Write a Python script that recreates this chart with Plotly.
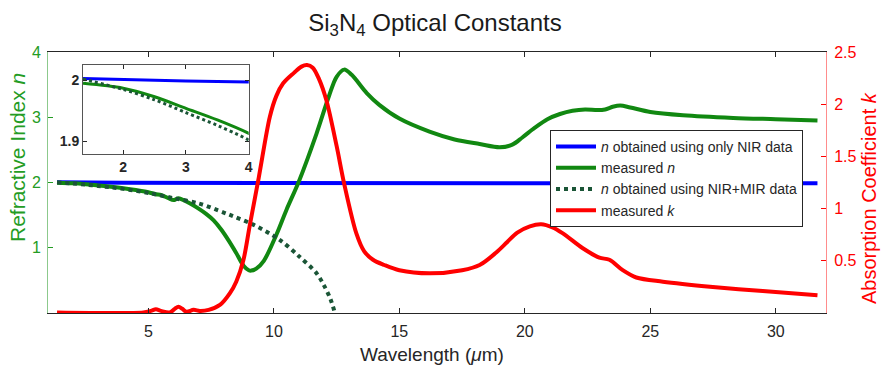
import plotly.graph_objects as go

# ---------------- data ----------------
wl_nir = [1.36, 2.0, 3.0, 4.0, 10.0, 20.0, 31.66]
n_nir = [2.003, 2.001, 1.999, 1.997, 1.993, 1.990, 1.987]

wl_meas_n = [1.36, 2.0, 2.5, 3.0, 3.5, 4.0, 4.5, 5.0, 5.3, 5.5, 5.8, 6.0, 6.2, 6.45, 6.7,
             7.0, 7.3, 7.6, 7.9, 8.2, 8.5, 8.8, 9.0, 9.1, 9.3, 9.6, 10.1, 10.5, 11.0,
             11.7, 12.2, 12.5, 12.8, 13.1, 13.7, 14.2, 15.0, 16.2, 17.2, 18.2, 19.0,
             19.5, 19.9, 20.4, 20.9, 21.4, 21.9, 22.4, 22.9, 23.2, 23.5, 23.8, 24.2,
             25.0, 26.3, 28.3, 30.0, 31.66]
n_meas = [1.995, 1.987, 1.973, 1.954, 1.935, 1.913, 1.885, 1.85, 1.82, 1.81, 1.76, 1.73,
          1.76, 1.72, 1.67, 1.60, 1.52, 1.42, 1.28, 1.11, 0.92, 0.72, 0.655, 0.65, 0.68,
          0.80, 1.20, 1.58, 2.02, 2.75, 3.33, 3.62, 3.73, 3.65, 3.37, 3.19, 2.98, 2.78,
          2.66, 2.59, 2.54, 2.58, 2.69, 2.84, 2.97, 3.05, 3.10, 3.12, 3.11, 3.12, 3.16,
          3.18, 3.15, 3.08, 3.03, 2.99, 2.97, 2.95]

wl_mir = [1.36, 2.0, 2.5, 3.0, 3.5, 4.0, 5.0, 6.0, 7.0, 8.0, 8.4, 9.2, 10.2, 11.0,
          11.7, 12.0, 12.25, 12.43]
n_mir = [2.002, 1.985, 1.968, 1.947, 1.926, 1.902, 1.84, 1.76, 1.68, 1.54, 1.48, 1.35,
         1.13, 0.87, 0.61, 0.42, 0.22, 0.0]

wl_k = [1.36, 4.8, 5.1, 5.3, 5.5, 5.85, 6.05, 6.2, 6.35, 6.52, 6.8, 7.05, 7.4, 7.85,
        8.25, 8.5, 8.78, 9.04, 9.4, 9.84, 10.1, 10.37, 10.8, 11.1, 11.32, 11.55, 11.8,
        12.09, 12.5, 12.8, 13.29, 13.6, 13.95, 14.4, 15.0, 16.2, 17.5, 18.2, 18.86,
        19.3, 19.7, 20.2, 20.65, 21.1, 21.5, 22.31, 22.97, 23.37, 23.9, 24.44, 25.5,
        27.49, 29.48, 31.66]
k_meas = [0.005, 0.005, 0.02, 0.035, 0.02, 0.005, 0.04, 0.06, 0.04, 0.012, 0.03, 0.02,
          0.03, 0.077, 0.19, 0.30, 0.50, 0.84, 1.30, 1.88, 2.08, 2.2, 2.30, 2.36, 2.375,
          2.35, 2.24, 2.04, 1.6, 1.24, 0.76, 0.59, 0.51, 0.46, 0.41, 0.38, 0.41, 0.46,
          0.58, 0.68, 0.77, 0.83, 0.85, 0.82, 0.765, 0.62, 0.53, 0.51, 0.41, 0.34, 0.30,
          0.25, 0.21, 0.17]

x_ticks = [5, 10, 15, 20, 25, 30]
n_ticks = [1, 2, 3, 4]
k_ticks = [0.5, 1, 1.5, 2, 2.5]
k_ticktext = ["0.5", "1", "1.5", "2", "2.5"]
inset_x_ticks = [2, 3, 4]
inset_y_ticks = [1.9, 2.0]
inset_y_ticktext = ["1.9", "2"]

names = ["<i>n</i> obtained using only NIR data", "measured <i>n</i>",
         "<i>n</i> obtained using NIR+MIR data", "measured <i>k</i>"]

# ---------------- styles ----------------
FONT = "Liberation Sans, Arial, sans-serif"
BLUE = "#0000ff"
GREEN = "#118811"
DKGREEN = "#1a5536"
RED = "#ff0000"
AXGREEN = "#249c24"
DARK = "#262626"

fig = go.Figure()

sp = dict(shape="spline", smoothing=0.9)

fig.add_trace(go.Scatter(x=wl_nir, y=n_nir, mode="lines", name=names[0],
                         line=dict(color=BLUE, width=4), xaxis="x", yaxis="y"))
fig.add_trace(go.Scatter(x=wl_meas_n, y=n_meas, mode="lines", name=names[1],
                         line=dict(color=GREEN, width=4, **sp), xaxis="x", yaxis="y"))
fig.add_trace(go.Scatter(x=wl_mir, y=n_mir, mode="lines", name=names[2],
                         line=dict(color=DKGREEN, width=4, dash="dot", **sp),
                         xaxis="x", yaxis="y"))
fig.add_trace(go.Scatter(x=wl_k, y=k_meas, mode="lines", name=names[3],
                         line=dict(color=RED, width=4, **sp), xaxis="x", yaxis="y2"))

# inset
fig.add_trace(go.Scatter(x=wl_nir, y=n_nir, mode="lines", showlegend=False,
                         line=dict(color=BLUE, width=3), xaxis="x3", yaxis="y3"))
fig.add_trace(go.Scatter(x=wl_meas_n, y=n_meas, mode="lines", showlegend=False,
                         line=dict(color=GREEN, width=3, **sp), xaxis="x3", yaxis="y3"))
fig.add_trace(go.Scatter(x=wl_mir, y=n_mir, mode="lines", showlegend=False,
                         line=dict(color=DKGREEN, width=3, dash="dot", **sp),
                         xaxis="x3", yaxis="y3"))

fig.update_layout(
    width=882, height=368,
    margin=dict(l=48, r=56, t=52, b=55),
    paper_bgcolor="white", plot_bgcolor="white",
    font=dict(family=FONT, size=16, color=DARK),
    title=dict(text="Si<sub>3</sub>N<sub>4</sub> Optical Constants",
               x=435 / 882, xanchor="center", y=1 - 23 / 368, yanchor="middle",
               font=dict(size=24, color="#1a1a1a")),
    xaxis=dict(domain=[0, 1], range=[1, 32], tickvals=x_ticks, ticks="inside",
               ticklen=5, tickcolor=DARK, showline=True, linecolor=DARK, linewidth=1,
               mirror="ticks", showgrid=False, zeroline=False,
               tickfont=dict(size=16, color=DARK), ticklabelstandoff=4, anchor="y"),
    yaxis=dict(range=[0, 4], tickvals=n_ticks, ticks="inside", ticklen=5,
               tickcolor=AXGREEN, showline=True, linecolor="#8cc98c", linewidth=1,
               showgrid=False, zeroline=False, tickfont=dict(size=16, color=AXGREEN),
               ticklabelstandoff=3, anchor="x"),
    yaxis2=dict(range=[0, 2.5], tickvals=k_ticks, ticktext=k_ticktext,
                overlaying="y", side="right", ticks="inside", ticklen=5,
                tickcolor=RED, showline=True, linecolor="#ff8c8c", linewidth=1,
                showgrid=False, zeroline=False, tickfont=dict(size=16, color=RED),
                ticklabelstandoff=4, anchor="x"),
    xaxis3=dict(domain=[0.045, 0.258], range=[1.36, 4], tickvals=inset_x_ticks,
                ticks="inside", ticklen=4, tickcolor=DARK, showline=True,
                linecolor="#555555", mirror="ticks", showgrid=False, zeroline=False,
                tickfont=dict(size=14, color=DARK, weight="bold"), anchor="y3"),
    yaxis3=dict(domain=[0.609, 0.950], range=[1.879, 2.025], tickvals=inset_y_ticks,
                ticktext=inset_y_ticktext, ticks="inside", ticklen=4, tickcolor=DARK,
                showline=True, linecolor="#555555", mirror="ticks", showgrid=False,
                zeroline=False, tickfont=dict(size=14, color=DARK, weight="bold"),
                anchor="x3"),
    legend=dict(x=(550 - 48) / 778, y=(313 - 130) / 261, xanchor="left", yanchor="top",
                bgcolor="white", bordercolor=DARK, borderwidth=1,
                font=dict(size=14, color=DARK), itemwidth=40, tracegroupgap=0),
    annotations=[
        dict(text="Wavelength (<i>μ</i>m)", x=435 / 882, xref="paper", xanchor="center",
             y=(313 - 354) / 261, yref="paper", yanchor="middle", showarrow=False,
             font=dict(size=19, color=DARK)),
        dict(text="Refractive Index <i>n</i>", x=(17 - 48) / 778, xref="paper",
             xanchor="center", y=(313 - 158) / 261, yref="paper", yanchor="middle",
             textangle=-90, showarrow=False, font=dict(size=21, color=AXGREEN)),
        dict(text="Absorption Coefficient <i>k</i>", x=(869 - 48) / 778, xref="paper",
             xanchor="center", y=(313 - 198) / 261, yref="paper", yanchor="middle",
             textangle=-90, showarrow=False, font=dict(size=20, color=RED)),
    ],
    showlegend=True,
)

fig.write_html("out.html")
